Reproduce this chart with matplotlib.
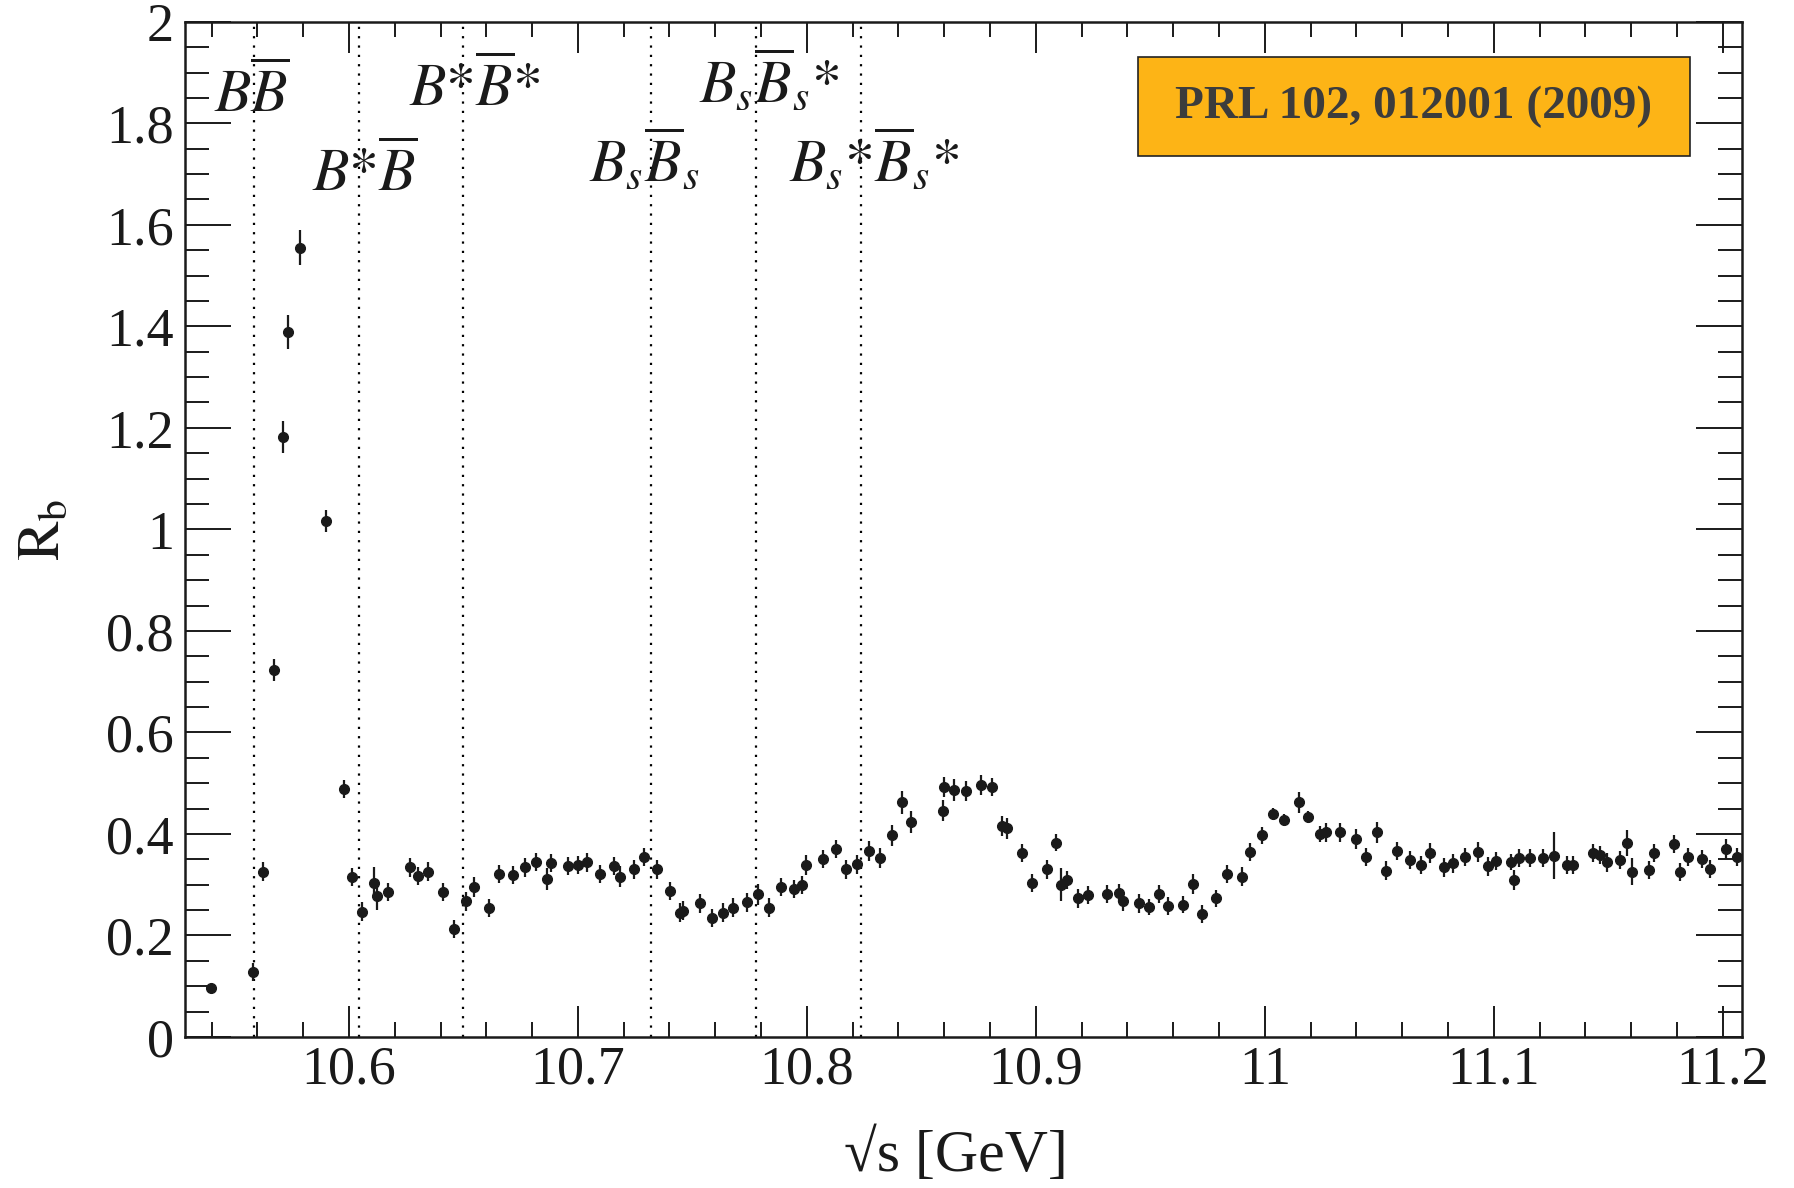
import matplotlib
matplotlib.use("Agg")
import matplotlib.pyplot as plt
from matplotlib.patches import Rectangle
from matplotlib.ticker import MultipleLocator

plt.rcParams["font.family"] = ["Liberation Serif", "DejaVu Serif"]
plt.rcParams["mathtext.fontset"] = "stix"

# ── data ─────────────────────────────────────────────────────────
energy = [
    10.5397, 10.5579, 10.5623, 10.5671, 10.5713, 10.5732, 10.5786, 10.5898, 10.5978,
    10.6013, 10.6055, 10.6110, 10.6121, 10.6172, 10.6266, 10.6303, 10.6346, 10.6409, 10.6457,
    10.6510, 10.6547, 10.6611, 10.6655, 10.6717, 10.6769, 10.6815, 10.6863, 10.6881, 10.6958,
    10.7001, 10.7038, 10.7096, 10.7159, 10.7183, 10.7246, 10.7288, 10.7344, 10.7402, 10.7448,
    10.7460, 10.7533, 10.7584, 10.7632, 10.7676, 10.7737, 10.7785, 10.7834, 10.7885, 10.7943,
    10.7977, 10.7996,
    10.8071, 10.8125, 10.8170, 10.8217, 10.8271, 10.8319, 10.8373, 10.8414, 10.8453, 10.8595,
    10.8598, 10.8642, 10.8697, 10.8759, 10.8809, 10.8853, 10.8876, 10.8940, 10.8981,
    10.9049, 10.9090, 10.9108, 10.9134, 10.9182, 10.9228, 10.9311, 10.9362, 10.9381, 10.9450,
    10.9493, 10.9538, 10.9578, 10.9641, 10.9684, 10.9724, 10.9786, 10.9833, 10.9898, 10.9935,
    10.9988,
    11.0036, 11.0083, 11.0148, 11.0189, 11.0240, 11.0266, 11.0328, 11.0397, 11.0441, 11.0490,
    11.0528, 11.0579, 11.0633, 11.0684, 11.0721, 11.0782, 11.0822, 11.0876, 11.0929, 11.0975,
    11.1009, 11.1073, 11.1089, 11.1110, 11.1157, 11.1215, 11.1262, 11.1320, 11.1346, 11.1431,
    11.1463, 11.1495, 11.1550, 11.1580, 11.1604, 11.1677, 11.1699, 11.1786, 11.1812, 11.1846,
    11.1910, 11.1943, 11.2013, 11.2060,
]
rb = [
    0.096, 0.128, 0.326, 0.723, 1.182, 1.389, 1.555, 1.017, 0.488,
    0.315, 0.247, 0.304, 0.278, 0.286, 0.334, 0.317, 0.326, 0.286, 0.213,
    0.267, 0.295, 0.254, 0.321, 0.319, 0.334, 0.345, 0.311, 0.343, 0.337,
    0.339, 0.344, 0.321, 0.337, 0.316, 0.330, 0.354, 0.330, 0.288, 0.245,
    0.249, 0.263, 0.234, 0.245, 0.255, 0.265, 0.281, 0.255, 0.296, 0.291,
    0.300, 0.339,
    0.350, 0.370, 0.330, 0.340, 0.367, 0.352, 0.397, 0.462, 0.423, 0.446,
    0.493, 0.487, 0.485, 0.497, 0.493, 0.416, 0.411, 0.362, 0.304,
    0.330, 0.383, 0.300, 0.309, 0.273, 0.280, 0.282, 0.283, 0.267, 0.263,
    0.256, 0.282, 0.258, 0.261, 0.301, 0.242, 0.273, 0.321, 0.316, 0.364,
    0.397,
    0.439, 0.428, 0.462, 0.433, 0.400, 0.403, 0.403, 0.390, 0.355, 0.403,
    0.328, 0.367, 0.349, 0.339, 0.363, 0.334, 0.342, 0.355, 0.364, 0.336,
    0.347, 0.345, 0.309, 0.353, 0.353, 0.353, 0.357, 0.339, 0.339, 0.363,
    0.359, 0.344, 0.349, 0.382, 0.326, 0.329, 0.362, 0.380, 0.325, 0.354,
    0.350, 0.331, 0.370, 0.355,
]
rb_err = [
    0.006, 0.018, 0.018, 0.021, 0.032, 0.033, 0.035, 0.022, 0.018,
    0.018, 0.018, 0.030, 0.028, 0.018, 0.018, 0.018, 0.018, 0.018, 0.018,
    0.018, 0.020, 0.018, 0.018, 0.018, 0.018, 0.018, 0.022, 0.018, 0.018,
    0.018, 0.018, 0.018, 0.018, 0.020, 0.018, 0.018, 0.018, 0.018, 0.018,
    0.018, 0.018, 0.018, 0.018, 0.018, 0.018, 0.020, 0.018, 0.018, 0.018,
    0.018, 0.020,
    0.018, 0.018, 0.018, 0.018, 0.020, 0.020, 0.020, 0.022, 0.022, 0.020,
    0.020, 0.022, 0.020, 0.020, 0.018, 0.020, 0.020, 0.018, 0.018,
    0.018, 0.016, 0.032, 0.018, 0.018, 0.018, 0.018, 0.018, 0.018, 0.018,
    0.016, 0.018, 0.018, 0.016, 0.020, 0.018, 0.016, 0.018, 0.018, 0.018,
    0.016,
    0.012, 0.012, 0.020, 0.012, 0.016, 0.018, 0.018, 0.020, 0.018, 0.020,
    0.018, 0.018, 0.018, 0.018, 0.020, 0.018, 0.018, 0.018, 0.020, 0.018,
    0.018, 0.016, 0.020, 0.018, 0.018, 0.018, 0.046, 0.018, 0.018, 0.018,
    0.018, 0.018, 0.018, 0.026, 0.026, 0.018, 0.018, 0.018, 0.018, 0.018,
    0.018, 0.018, 0.020, 0.018,
]

# open-flavour thresholds
thresholds = [10.5585, 10.6042, 10.6499, 10.7319, 10.7776, 10.8236]
threshold_names = [
    r"$B\overline{B}$",
    r"$B{*}\overline{B}$",
    r"$B{*}\overline{B}{*}$",
    r"$B_s\overline{B}_s$",
    r"$B_s\overline{B}_s{*}$",
    r"$B_s{*}\overline{B}_s{*}$",
]
name_x = [10.5576, 10.6070, 10.6550, 10.7288, 10.7834, 10.8293]
name_y = [1.823, 1.667, 1.834, 1.685, 1.840, 1.685]

x_ticks = [10.6, 10.7, 10.8, 10.9, 11.0, 11.1, 11.2]
x_ticklabels = ["10.6", "10.7", "10.8", "10.9", "11", "11.1", "11.2"]
y_ticks = [0, 0.2, 0.4, 0.6, 0.8, 1.0, 1.2, 1.4, 1.6, 1.8, 2.0]
y_ticklabels = ["0", "0.2", "0.4", "0.6", "0.8", "1", "1.2", "1.4", "1.6", "1.8", "2"]

ink = "#1a1a1a"

fig = plt.figure(figsize=(17.94, 11.88), dpi=100)
ax = fig.add_axes([0.1031, 0.1271, 0.8677, 0.8546])

ax.errorbar(energy, rb, yerr=rb_err, fmt="o", ms=7, color=ink, ecolor=ink,
            elinewidth=1.6, capsize=0, zorder=3)

for xt in thresholds:
    ax.axvline(xt, color="black", lw=1.6, ls=(0, (1, 3.2)), zorder=1)

for s, xn, yn in zip(threshold_names, name_x, name_y):
    ax.text(xn, yn, s, ha="center", va="baseline", fontsize=43, color=ink)

ax.set_xlim(10.5284, 11.2082)
ax.set_ylim(0, 2)

ax.set_xticks(x_ticks)
ax.set_xticklabels(x_ticklabels)
ax.set_yticks(y_ticks)
ax.set_yticklabels(y_ticklabels)
ax.xaxis.set_minor_locator(MultipleLocator(0.02))
ax.yaxis.set_minor_locator(MultipleLocator(0.05))

ax.tick_params(which="both", direction="in", top=True, right=True,
               width=1.4, color=ink, labelsize=39, labelcolor=ink)
ax.tick_params(axis="x", which="major", length=22, pad=6)
ax.tick_params(axis="x", which="minor", length=11)
ax.tick_params(axis="y", which="major", length=33, pad=8)
ax.tick_params(axis="y", which="minor", length=17)
for sp in ax.spines.values():
    sp.set_linewidth(1.8)
    sp.set_color(ink)

ax.set_xlabel("\u221as [GeV]", fontsize=43, color=ink)
ax.xaxis.set_label_coords(0.495, -0.117)
ax.xaxis.label.set_va("center")
ax.set_ylabel(r"$\mathrm{R}_{\mathrm{b}}$", fontsize=43, color=ink)
ax.yaxis.set_label_coords(-0.09, 0.5)
ax.yaxis.label.set_va("center")

# reference badge
ax.add_patch(Rectangle((0.6122, 0.8677), 0.3546, 0.0975, transform=ax.transAxes,
                       facecolor="#FDB416", edgecolor="#222222", lw=1.2, zorder=4))
ax.text(0.7895, 0.9165, "PRL 102, 012001 (2009)", transform=ax.transAxes,
        ha="center", va="center", fontsize=34, fontweight="bold",
        color="#3c3c3c", zorder=5)

fig.savefig("out.png", dpi=100)
